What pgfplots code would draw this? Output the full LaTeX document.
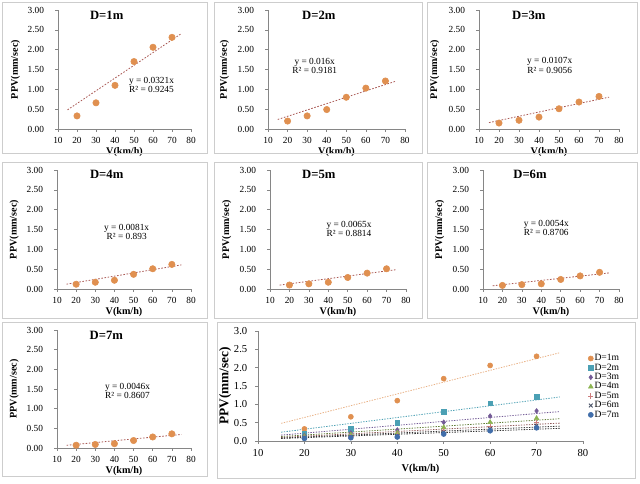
\documentclass[border=0pt]{standalone}
\usepackage{fontspec}
\setmainfont{Liberation Serif}
\usepackage{pgfplots}
\pgfplotsset{compat=1.18}
\definecolor{ppvor}{RGB}{224,144,80}
\definecolor{ppvteal}{RGB}{75,160,180}
\definecolor{ppvpur}{RGB}{115,90,150}
\definecolor{ppvgreen}{RGB}{140,180,80}
\definecolor{ppvpink}{RGB}{205,125,125}
\definecolor{ppvdark}{RGB}{70,80,100}
\definecolor{ppvblue}{RGB}{65,110,170}
\definecolor{trendred}{RGB}{170,90,85}
\definecolor{axgray}{RGB}{134,134,134}
\definecolor{bordergray}{RGB}{205,205,205}
\pgfplotsset{
 base/.style={scale only axis, xmin=10,xmax=80,ymin=0,ymax=3,
   xtick={10,20,30,40,50,60,70,80}, ytick={0,0.5,1,1.5,2,2.5,3},
   axis lines=left, axis line style={draw=axgray,-},
   every tick/.style={draw=axgray}, tick align=outside, major tick length=2pt,
   /pgf/number format/assume math mode=true,
   xlabel={V(km/h)}, ylabel={PPV(mm/sec)},
   clip=false},
 small/.style={base, height=89.25pt,
   tick label style={font=\fontsize{7}{8}\selectfont},
   label style={font=\fontsize{7.6}{9}\selectfont\bfseries},
   yticklabel style={xshift=-5pt, /pgf/number format/fixed, /pgf/number format/fixed zerofill, /pgf/number format/precision=2},
   xticklabel style={yshift=-1pt},
   ylabel style={at={(axis description cs:-0.25,0.5)},anchor=south},
   xlabel style={at={(axis description cs:0.5,-0.115)},anchor=north}},
 pts/.style={only marks, mark=*, mark size=2.4pt, mark options={draw=ppvor,fill=ppvor}},
 trend/.style={no marks, trendred, line width=0.6pt, dash pattern=on 1.2pt off 1.2pt},
}
\begin{document}
\begin{tikzpicture}
\path[fill=white] (0,0) rectangle (480pt,363pt);
% D=1m
\begin{axis}[small, at={(43.5pt,266.25pt)}, anchor=south west, width=99.75pt]
\addplot[trend] coordinates {(15,0.4815) (75,2.4075)};
\addplot[pts] coordinates {(20,0.33) (30,0.66) (40,1.10) (50,1.70) (60,2.06) (70,2.31)};
\end{axis}
% D=2m
\begin{axis}[small, at={(201pt,266.25pt)}, anchor=south west, width=102.75pt]
\addplot[trend] coordinates {(15,0.24) (75,1.2)};
\addplot[pts] coordinates {(20,0.20) (30,0.33) (40,0.49) (50,0.80) (60,1.03) (70,1.21)};
\end{axis}
% D=3m
\begin{axis}[small, at={(359.25pt,266.25pt)}, anchor=south west, width=105pt]
\addplot[trend] coordinates {(15,0.1605) (75,0.8025)};
\addplot[pts] coordinates {(20,0.15) (30,0.22) (40,0.30) (50,0.51) (60,0.68) (70,0.82)};
\end{axis}
% D=4m
\begin{axis}[small, at={(42.75pt,146.25pt)}, anchor=south west, width=100.5pt]
\addplot[trend] coordinates {(15,0.1215) (75,0.6075)};
\addplot[pts] coordinates {(20,0.12) (30,0.17) (40,0.22) (50,0.37) (60,0.51) (70,0.62)};
\end{axis}
% D=5m
\begin{axis}[small, at={(202.5pt,146.25pt)}, anchor=south west, width=102pt]
\addplot[trend] coordinates {(15,0.0975) (75,0.4875)};
\addplot[pts] coordinates {(20,0.10) (30,0.13) (40,0.17) (50,0.29) (60,0.40) (70,0.51)};
\end{axis}
% D=6m
\begin{axis}[small, at={(362.25pt,146.25pt)}, anchor=south west, width=102pt]
\addplot[trend] coordinates {(15,0.081) (75,0.405)};
\addplot[pts] coordinates {(20,0.09) (30,0.11) (40,0.13) (50,0.24) (60,0.33) (70,0.42)};
\end{axis}
% D=7m
\begin{axis}[small, at={(42.75pt,27pt)}, anchor=south west, width=100.5pt, height=88.5pt]
\addplot[trend] coordinates {(15,0.069) (75,0.345)};
\addplot[pts] coordinates {(20,0.07) (30,0.09) (40,0.11) (50,0.19) (60,0.28) (70,0.36)};
\end{axis}
% combined
\begin{axis}[base, at={(193.5pt,32.25pt)}, anchor=south west, width=243.75pt, height=82.5pt,
   tick label style={font=\fontsize{8}{9}\selectfont},
   yticklabel style={xshift=-2.5pt, /pgf/number format/fixed, /pgf/number format/fixed zerofill, /pgf/number format/precision=1},
   xticklabel style={yshift=-1pt},
   xlabel style={font=\fontsize{7.8}{9}\selectfont\bfseries, at={(axis description cs:0.5,-0.17)},anchor=north},
   ylabel style={font=\fontsize{10}{11}\selectfont\bfseries, at={(axis description cs:-0.068,0.5)},anchor=south},
   legend style={at={(axis description cs:1.015,0.80)}, anchor=north west, draw=none, fill=none,
     font=\fontsize{7.2}{8}\selectfont, row sep=-0.8pt, inner sep=0pt,
     nodes={inner sep=0.8pt}},
   legend cell align=left]
\addplot[forget plot, no marks, ppvor!70, line width=0.6pt, dash pattern=on 1pt off 1pt] coordinates {(15,0.4815) (75,2.4075)};
\addplot[forget plot, no marks, ppvteal, line width=0.6pt, dash pattern=on 1pt off 1pt] coordinates {(15,0.24) (75,1.2)};
\addplot[forget plot, no marks, ppvpur, line width=0.6pt, dash pattern=on 1pt off 1pt] coordinates {(15,0.1605) (75,0.8025)};
\addplot[forget plot, no marks, ppvgreen!70!black, line width=0.6pt, dash pattern=on 1pt off 1pt] coordinates {(15,0.1215) (75,0.6075)};
\addplot[forget plot, no marks, ppvpink!70!black, line width=0.6pt, dash pattern=on 1pt off 1pt] coordinates {(15,0.0975) (75,0.4875)};
\addplot[forget plot, no marks, black!80, line width=0.6pt, dash pattern=on 1pt off 1pt] coordinates {(15,0.081) (75,0.405)};
\addplot[forget plot, no marks, black!80, line width=0.6pt, dash pattern=on 1pt off 1pt] coordinates {(15,0.069) (75,0.345)};
\addplot[only marks, mark=*, mark size=1.9pt, draw=ppvor, fill=ppvor] coordinates {(20,0.33) (30,0.66) (40,1.10) (50,1.70) (60,2.06) (70,2.31)};
\addlegendentry{D=1m}
\addplot[only marks, mark=square*, mark size=1.7pt, draw=ppvteal, fill=ppvteal] coordinates {(20,0.20) (30,0.33) (40,0.49) (50,0.80) (60,1.03) (70,1.21)};
\addlegendentry{D=2m}
\addplot[only marks, mark=diamond*, mark size=1.8pt, draw=ppvpur, fill=ppvpur] coordinates {(20,0.15) (30,0.22) (40,0.30) (50,0.51) (60,0.68) (70,0.82)};
\addlegendentry{D=3m}
\addplot[only marks, mark=triangle*, mark size=2pt, draw=ppvgreen, fill=ppvgreen] coordinates {(20,0.12) (30,0.17) (40,0.22) (50,0.37) (60,0.51) (70,0.62)};
\addlegendentry{D=4m}
\addplot[only marks, mark=+, mark size=2pt, draw=ppvpink, line width=0.6pt] coordinates {(20,0.10) (30,0.13) (40,0.17) (50,0.29) (60,0.40) (70,0.51)};
\addlegendentry{D=5m}
\addplot[only marks, mark=x, mark size=2pt, draw=ppvdark, line width=0.6pt] coordinates {(20,0.09) (30,0.11) (40,0.13) (50,0.24) (60,0.33) (70,0.42)};
\addlegendentry{D=6m}
\addplot[only marks, mark=*, mark size=1.9pt, draw=ppvblue, fill=ppvblue] coordinates {(20,0.07) (30,0.09) (40,0.11) (50,0.19) (60,0.28) (70,0.36)};
\addlegendentry{D=7m}
\end{axis}
\begin{scope}[x=0.75pt,y=-0.75pt,yshift=363pt]
\draw[bordergray, line width=0.6pt] (2,2) rectangle (207,153);
\draw[bordergray, line width=0.6pt] (214,2) rectangle (422,153);
\draw[bordergray, line width=0.6pt] (427,2) rectangle (637,153);
\draw[bordergray, line width=0.6pt] (2,162) rectangle (207,318);
\draw[bordergray, line width=0.6pt] (214,162) rectangle (422,318);
\draw[bordergray, line width=0.6pt] (427,162) rectangle (637,318);
\draw[bordergray, line width=0.6pt] (2,322) rectangle (207,476);
\draw[bordergray, line width=0.6pt] (217,322) rectangle (635,478);
\tikzset{ttl/.style={font=\fontsize{9.5}{11}\selectfont\bfseries, inner sep=0pt},
  eq/.style={font=\fontsize{7}{7.3}\selectfont, align=center, inner sep=0pt}}
\node[ttl] at (106.7,15) {D=1m};
\node[ttl] at (318.8,15) {D=2m};
\node[ttl] at (528.8,15) {D=3m};
\node[ttl] at (106.7,174) {D=4m};
\node[ttl] at (318.8,174) {D=5m};
\node[ttl] at (530,174) {D=6m};
\node[ttl] at (106.3,335) {D=7m};
\node[eq] at (151.5,85) {y = 0.0321x\\R² = 0.9245};
\node[eq] at (314.7,66) {y = 0.016x\\R² = 0.9181};
\node[eq] at (549.7,65.5) {y = 0.0107x\\R² = 0.9056};
\node[eq] at (126.7,232) {y = 0.0081x\\R² = 0.893};
\node[eq] at (349,229) {y = 0.0065x\\R² = 0.8814};
\node[eq] at (546.3,228) {y = 0.0054x\\R² = 0.8706};
\node[eq] at (127.5,391) {y = 0.0046x\\R² = 0.8607};
\end{scope}
\end{tikzpicture}
\end{document}
